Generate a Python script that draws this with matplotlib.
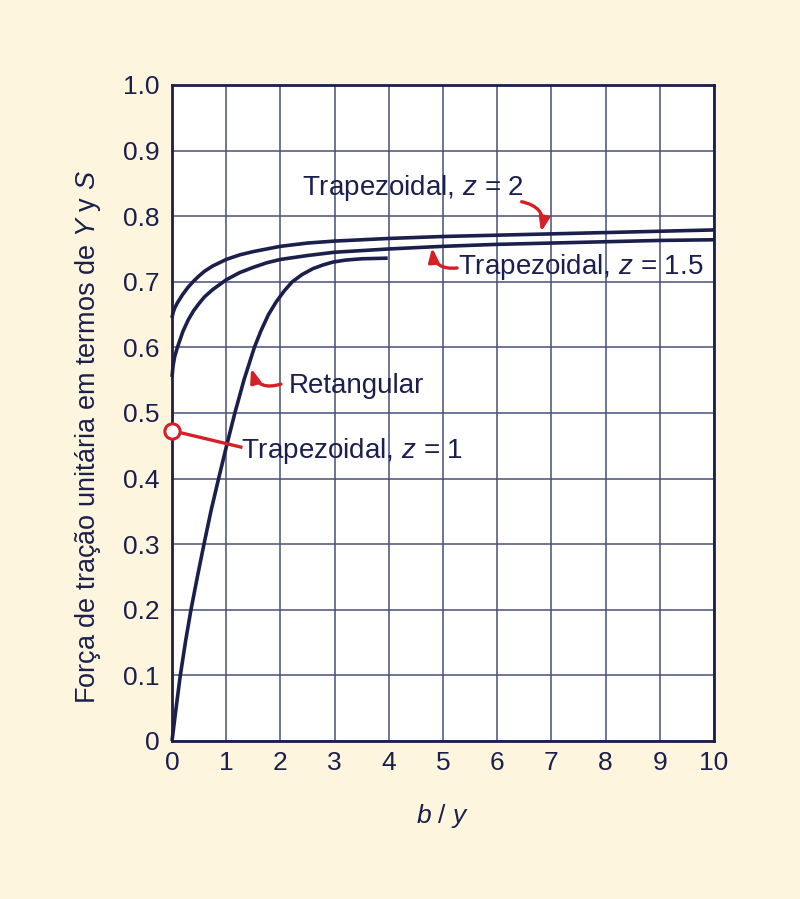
import matplotlib
matplotlib.use('Agg')
import matplotlib.pyplot as plt
import numpy as np

plt.rcParams['font.family'] = ['Liberation Sans', 'DejaVu Sans']
plt.rcParams['mathtext.fontset'] = 'custom'
plt.rcParams['mathtext.rm'] = 'Liberation Sans'
plt.rcParams['mathtext.it'] = 'Liberation Sans:italic'

navy = '#1b1f4b'
red = '#d42027'
cream = '#fdf5de'

# curves
x_rect = [0, 0.075, 0.15, 0.25, 0.35, 0.47, 0.59, 0.72, 0.86, 1.01, 1.16, 1.33, 1.52, 1.64, 1.78,
          1.92, 2.07, 2.22, 2.4, 2.6, 2.8, 2.97, 3.2, 3.5, 3.98]
y_rect = [0, 0.05, 0.098, 0.152, 0.2, 0.251, 0.3, 0.351, 0.4, 0.451, 0.5, 0.551, 0.6, 0.625, 0.65,
          0.669, 0.686, 0.700, 0.711, 0.720, 0.726, 0.730, 0.733, 0.735, 0.736]

x_z15 = [0, 0.02, 0.05, 0.1, 0.2, 0.3, 0.4, 0.5, 0.6, 0.75, 1.0, 1.25, 1.5, 1.75, 2.0, 2.5, 3.0,
         4.0, 5.0, 6.0, 7.0, 8.0, 9.0, 10.0]
y_z15 = [0.555, 0.572, 0.586, 0.600, 0.624, 0.642, 0.656, 0.667, 0.677, 0.688, 0.703, 0.714, 0.722,
         0.729, 0.734, 0.740, 0.745, 0.750, 0.754, 0.757, 0.759, 0.761, 0.763, 0.764]

x_z2 = [0, 0.02, 0.05, 0.1, 0.2, 0.3, 0.4, 0.5, 0.6, 0.75, 1.0, 1.25, 1.5, 1.75, 2.0, 2.5, 3.0,
        4.0, 5.0, 6.0, 7.0, 8.0, 9.0, 10.0]
y_z2 = [0.645, 0.653, 0.660, 0.668, 0.681, 0.692, 0.701, 0.709, 0.716, 0.724, 0.734, 0.741, 0.746,
        0.750, 0.754, 0.759, 0.762, 0.766, 0.769, 0.771, 0.773, 0.775, 0.777, 0.779]

# z = 1 marker value on the y axis
x_z1 = [0]
y_z1 = [0.473]

x_ticks = list(range(0, 11))
y_ticks = [0, 0.1, 0.2, 0.3, 0.4, 0.5, 0.6, 0.7, 0.8, 0.9, 1.0]
y_ticklabels = ['0', '0.1', '0.2', '0.3', '0.4', '0.5', '0.6', '0.7', '0.8', '0.9', '1.0']

fig = plt.figure(figsize=(8, 8.99), dpi=100)
fig.patch.set_facecolor(cream)
ax = fig.add_axes([0.215, 0.1758, 0.6775, 0.7297])
ax.set_facecolor('white')

ax.set_xlim(0, 10)
ax.set_ylim(0, 1.0)
ax.set_xticks(x_ticks)
ax.set_yticks(y_ticks)
ax.set_yticklabels(y_ticklabels)
ax.tick_params(length=0, labelsize=19, labelcolor=navy)
ax.tick_params(axis='y', pad=9)
ax.tick_params(axis='x', pad=7)
ax.grid(True, color='#4a4f78', linewidth=1.1)
ax.set_axisbelow(True)
for s in ax.spines.values():
    s.set_color(navy)
    s.set_linewidth(2)

for xs, ys in [(x_rect, y_rect), (x_z15, y_z15), (x_z2, y_z2)]:
    ax.plot(xs, ys, color=navy, lw=2.6, solid_capstyle='butt', solid_joinstyle='round',
            clip_on=False, zorder=3)

# labels
fs = 20
ax.text(2.40, 0.843, r'Trapezoidal, $z$ = 2', fontsize=fs, color=navy, va='center', ha='left')
ax.text(5.28, 0.722, r'Trapezoidal, $z$ = 1.5', fontsize=fs, color=navy, va='center', ha='left')
ax.text(2.16, 0.541, 'Retangular', fontsize=fs, color=navy, va='center', ha='left')
ax.text(1.27, 0.442, r'Trapezoidal, $z$ = 1', fontsize=fs, color=navy, va='center', ha='left')

arrow = dict(arrowstyle='-|>,head_length=0.8,head_width=0.3', color=red, lw=2.4, shrinkA=0, shrinkB=0)
ax.annotate('', xy=(6.81, 0.776), xytext=(6.45, 0.822),
            arrowprops=dict(arrow, connectionstyle='arc3,rad=-0.5'))
ax.annotate('', xy=(4.80, 0.752), xytext=(5.26, 0.721),
            arrowprops=dict(arrow, connectionstyle='arc3,rad=-0.5'))
ax.annotate('', xy=(1.46, 0.568), xytext=(2.01, 0.544),
            arrowprops=dict(arrow, connectionstyle='arc3,rad=-0.5'))

ax.plot([1.27, x_z1[0]], [0.448, y_z1[0]], color=red, lw=2.4, zorder=4, clip_on=False)
ax.plot(x_z1, y_z1, 'o', ms=11, mfc='white', mec=red, mew=2.2, zorder=5, clip_on=False)

ax.set_xlabel(r'$b$ / $y$', fontsize=19, color=navy, labelpad=20)
ax.set_ylabel(r'Força de tração unitária em termos de $Y$ y $S$', fontsize=19.5, color=navy)
ax.yaxis.set_label_coords(-0.128, 0.463)

fig.savefig('out.png', dpi=100, facecolor=cream)
